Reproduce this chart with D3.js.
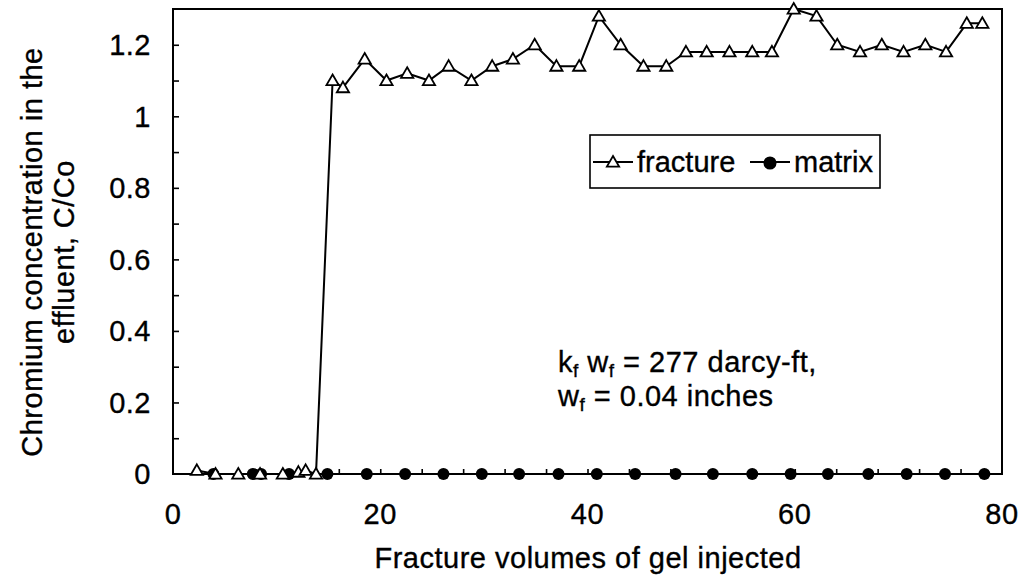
<!DOCTYPE html>
<html>
<head>
<meta charset="utf-8">
<style>
body { margin: 0; background: #fff; }
text { font-family: "Liberation Sans", Arial, sans-serif; fill: #000; stroke: #000; stroke-width: 0.35px; letter-spacing: 0.5px; }
.series { fill: none; stroke: #000; stroke-width: 2px; }
</style>
<title>Chromium concentration in the effluent</title>
</head>
<body>
<div id="chart"></div>
<script src="https://d3js.org/d3.v7.min.js"></script>
<script>
// values
var fractureX = [2.3, 4.1, 6.3, 8.4, 10.6, 12.1, 12.8, 13.8, 15.4, 16.4, 18.5, 20.6, 22.6, 24.7, 26.6, 28.8, 30.8, 32.8, 34.9, 37.0, 39.2,
                 41.1, 43.2, 45.4, 47.6, 49.5, 51.5, 53.7, 55.9, 57.8, 59.9, 62.1, 64.1, 66.3, 68.4, 70.5, 72.6, 74.6, 76.6, 78.1];
var fractureY = [0.01, 0, 0, 0, 0, 0.005, 0.01, 0, 1.10, 1.08, 1.16, 1.10, 1.12, 1.10, 1.14, 1.10, 1.14, 1.16, 1.20, 1.14, 1.14,
                 1.28, 1.20, 1.14, 1.14, 1.18, 1.18, 1.18, 1.18, 1.18, 1.30, 1.28, 1.20, 1.18, 1.20, 1.18, 1.20, 1.18, 1.26, 1.26];
var matrixX = [3.9, 7.7, 8.5, 11.2, 14.9, 18.7, 22.4, 26.1, 29.8, 33.4, 37.2, 40.9, 44.6, 48.5, 52.1, 55.9, 59.6, 63.2, 67.1, 70.8, 74.5, 78.3];
var matrixY = [0, 0, 0, 0, 0, 0, 0, 0, 0, 0, 0, 0, 0, 0, 0, 0, 0, 0, 0, 0, 0, 0];
var xTickLabels = [0, 20, 40, 60, 80];
var yTickLabels = [0, 0.2, 0.4, 0.6, 0.8, 1, 1.2];
var seriesNames = ["fracture", "matrix"];

var width = 1026,
    height = 580,
    fs = 29;

var x = d3.scaleLinear().domain([0, 80]).range([173, 1002]);
var y = d3.scaleLinear().domain([0, 1.3]).range([474, 9]);

var svg = d3.select("#chart").append("svg")
    .attr("width", width)
    .attr("height", height);

// frame
svg.append("rect")
    .attr("x", x(0)).attr("y", y(1.3))
    .attr("width", x(80) - x(0)).attr("height", y(0) - y(1.3))
    .attr("fill", "none").attr("stroke", "#000").attr("stroke-width", 2);

// y axis: ticks every 0.1 inward, labels every 0.2
svg.append("g")
    .attr("transform", "translate(" + x(0) + ",0)")
    .call(d3.axisRight(y).tickValues(d3.range(1, 13).map(function(i) { return i / 10; })).tickSize(6).tickFormat(""))
    .call(function(g) { g.select(".domain").remove(); g.selectAll("line").attr("stroke-width", 1.6); });

svg.append("g").selectAll("text")
    .data(yTickLabels)
    .enter().append("text")
    .attr("x", 151)
    .attr("y", function(d) { return y(d); })
    .attr("dy", "0.36em")
    .attr("text-anchor", "end")
    .attr("font-size", fs)
    .text(function(d) { return d; });

// x axis: small upward ticks every 4, labels every 20
svg.append("g")
    .attr("transform", "translate(0," + y(0) + ")")
    .call(d3.axisTop(x).tickValues(d3.range(4, 80, 4)).tickSize(5).tickFormat(""))
    .call(function(g) { g.select(".domain").remove(); g.selectAll("line").attr("stroke-width", 1.6); });

svg.append("g").selectAll("text")
    .data(xTickLabels)
    .enter().append("text")
    .attr("x", function(d) { return x(d); })
    .attr("y", 524)
    .attr("text-anchor", "middle")
    .attr("font-size", fs)
    .text(function(d) { return d; });

// axis titles
svg.append("text")
    .attr("x", 588).attr("y", 568)
    .attr("text-anchor", "middle")
    .attr("font-size", fs)
    .text("Fracture volumes of gel injected");

var yTitle = svg.append("g").attr("transform", "translate(0,252) rotate(-90)");
yTitle.append("text")
    .attr("x", 0).attr("y", 42)
    .attr("text-anchor", "middle")
    .attr("font-size", fs)
    .text("Chromium concentration in the");
yTitle.append("text")
    .attr("x", 0).attr("y", 74)
    .attr("text-anchor", "middle")
    .attr("font-size", fs)
    .text("effluent, C/Co");

// series
var line = d3.line()
    .x(function(d) { return x(d[0]); })
    .y(function(d) { return y(d[1]); });

var fracture = fractureX.map(function(v, i) { return [v, fractureY[i]]; });
var matrix = matrixX.map(function(v, i) { return [v, matrixY[i]]; });

svg.append("path").datum(matrix).attr("class", "series").attr("d", line);
svg.append("path").datum(fracture).attr("class", "series").attr("d", line);

var tri = d3.symbol().type(d3.symbolTriangle).size(65);

svg.append("g").selectAll("circle")
    .data(matrix)
    .enter().append("circle")
    .attr("cx", function(d) { return x(d[0]); })
    .attr("cy", function(d) { return y(d[1]); })
    .attr("r", 6)
    .attr("fill", "#000");

svg.append("g").selectAll("path")
    .data(fracture)
    .enter().append("path")
    .attr("d", tri)
    .attr("transform", function(d) { return "translate(" + x(d[0]) + "," + (y(d[1]) + 1) + ")"; })
    .attr("fill", "#fff")
    .attr("stroke", "#000")
    .attr("stroke-width", 1.8);

// legend
var legend = svg.append("g").attr("transform", "translate(590,135)");
legend.append("rect")
    .attr("width", 290).attr("height", 53)
    .attr("fill", "#fff").attr("stroke", "#000").attr("stroke-width", 1.6);

var items = legend.selectAll("g.item")
    .data(seriesNames)
    .enter().append("g")
    .attr("class", "item")
    .attr("transform", function(d, i) { return "translate(" + (i ? 160 : 3) + ",27)"; });

items.append("line")
    .attr("x1", 0).attr("x2", 40)
    .attr("stroke", "#000").attr("stroke-width", 2);

items.append("path")
    .attr("d", function(d) { return d == "fracture" ? tri() : d3.symbol().type(d3.symbolCircle).size(100)(); })
    .attr("transform", "translate(20,1)")
    .attr("fill", function(d) { return d == "fracture" ? "#fff" : "#000"; })
    .attr("stroke", "#000")
    .attr("stroke-width", 1.8);

items.append("text")
    .attr("x", 44)
    .attr("dy", "0.35em")
    .attr("font-size", fs)
    .style("letter-spacing", "0px")
    .text(function(d) { return d; });

// note
var note = svg.append("g").attr("font-size", fs);
var l1 = note.append("text").attr("x", 558).attr("y", 372);
l1.append("tspan").text("k");
l1.append("tspan").attr("font-size", 19).attr("dy", 5).text("f");
l1.append("tspan").attr("dy", -5).text(" w");
l1.append("tspan").attr("font-size", 19).attr("dy", 5).text("f");
l1.append("tspan").attr("dy", -5).text(" = 277 darcy-ft,");

var l2 = note.append("text").attr("x", 558).attr("y", 406);
l2.append("tspan").text("w");
l2.append("tspan").attr("font-size", 19).attr("dy", 5).text("f");
l2.append("tspan").attr("dy", -5).text(" = 0.04 inches");
</script>
</body>
</html>
